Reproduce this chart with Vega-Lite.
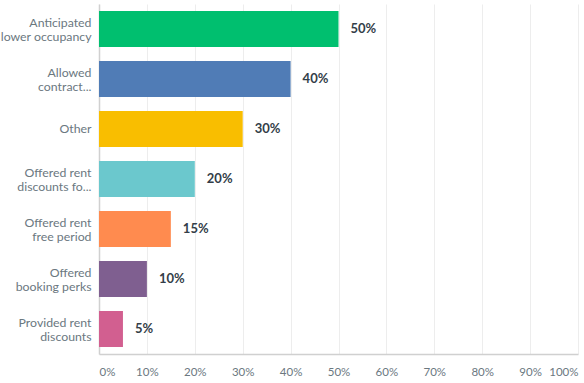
{
  "$schema": "https://vega.github.io/schema/vega-lite/v6.json",
  "width": 479,
  "height": 350,
  "autosize": {"type": "none"},
  "padding": {"left": 99, "top": 4, "right": 6, "bottom": 29},
  "background": "white",
  "config": {"view": {"stroke": null}, "font": "Lato"},
  "data": {
    "values": [
      {"label": "Anticipated|lower occupancy", "value": 0.50, "color": "#00bf6f"},
      {"label": "Allowed|contract...", "value": 0.40, "color": "#507cb6"},
      {"label": "Other", "value": 0.30, "color": "#f9be00"},
      {"label": "Offered rent|discounts fo...", "value": 0.20, "color": "#6bc8cd"},
      {"label": "Offered rent|free period", "value": 0.15, "color": "#ff8b4f"},
      {"label": "Offered|booking perks", "value": 0.10, "color": "#7f5f90"},
      {"label": "Provided rent|discounts", "value": 0.05, "color": "#d25f90"}
    ]
  },
  "encoding": {
    "y": {
      "field": "label",
      "type": "nominal",
      "sort": null,
      "scale": {"paddingInner": 0.28, "paddingOuter": 0.14},
      "axis": {
        "title": null,
        "labelExpr": "split(datum.label, '|')",
        "labelFont": "Lato",
        "labelFontSize": 12.3,
        "labelLineHeight": 14,
        "labelColor": "#6b787f",
        "labelPadding": 8,
        "ticks": false,
        "domainColor": "#d0d0d0",
        "domainWidth": 1.5,
        "labelLimit": 200,
        "labelOffset": {"condition": {"test": "indexof(datum.value, '|') >= 0", "value": -6.5}, "value": 0}
      }
    },
    "x": {
      "field": "value",
      "type": "quantitative",
      "scale": {"domain": [0, 1]},
      "axis": {
        "title": null,
        "format": ".0%",
        "values": [0, 0.1, 0.2, 0.3, 0.4, 0.5, 0.6, 0.7, 0.8, 0.9, 1],
        "labelFont": "Lato",
        "labelFontSize": 11.5,
        "labelColor": "#6b787f",
        "labelPadding": 12,
        "ticks": false,
        "domainColor": "#d0d0d0",
        "domainWidth": 1.5,
        "gridColor": "#ededed",
        "gridWidth": 1,
        "labelFlush": true
      }
    }
  },
  "layer": [
    {
      "mark": {"type": "bar"},
      "encoding": {"color": {"field": "color", "type": "nominal", "scale": null}}
    },
    {
      "mark": {"type": "text", "align": "left", "dx": 12, "fontWeight": "bold", "fontSize": 13, "color": "#333e48", "font": "Lato"},
      "encoding": {"text": {"field": "value", "type": "quantitative", "format": ".0%"}}
    }
  ]
}
